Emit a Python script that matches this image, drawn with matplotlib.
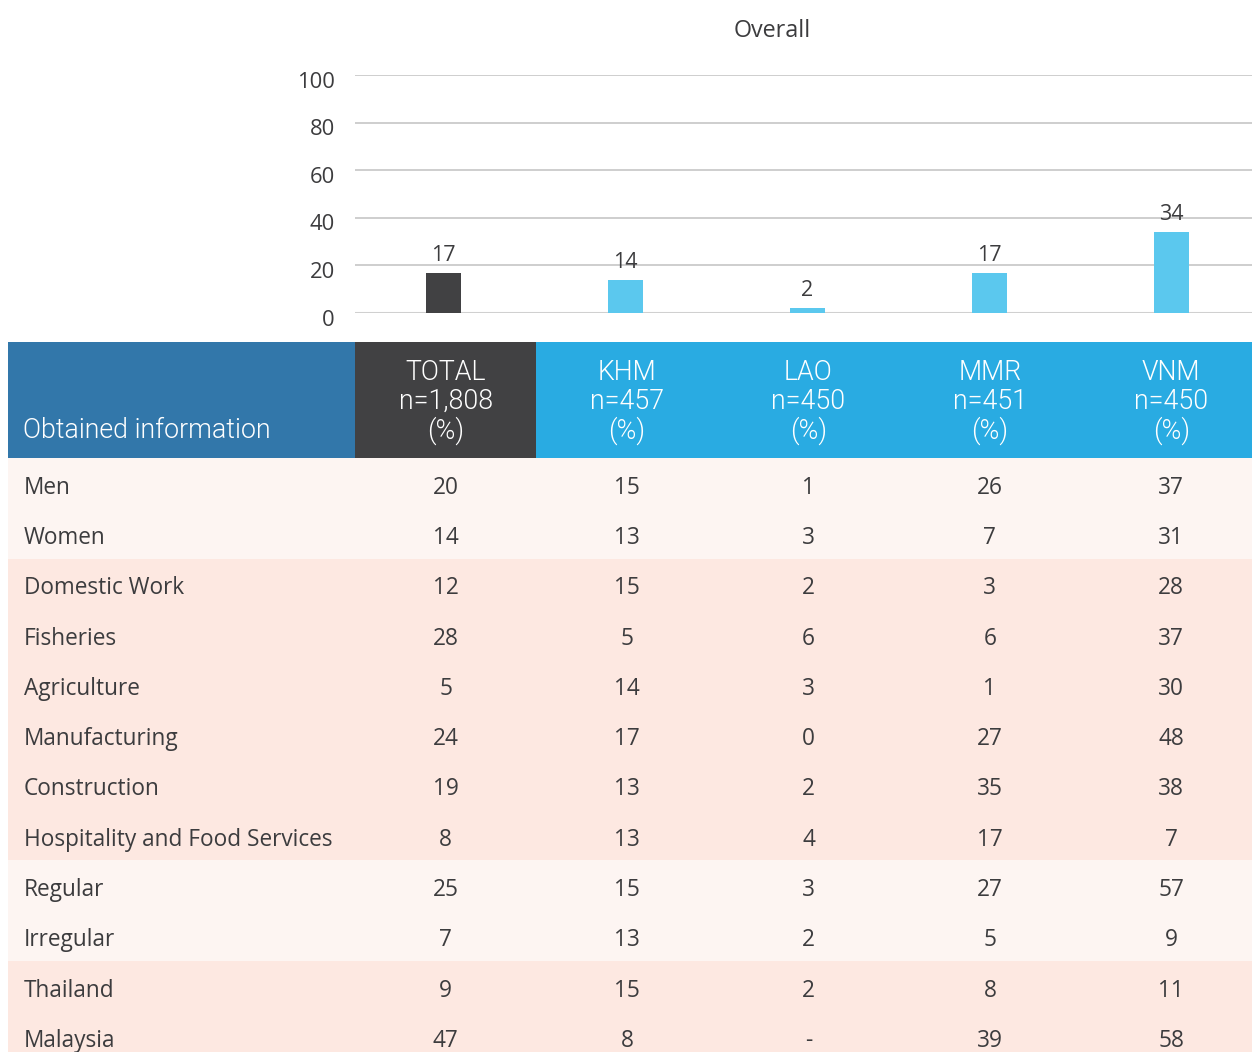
import matplotlib
matplotlib.use("Agg")
import matplotlib.pyplot as plt
import matplotlib.transforms as mtransforms
from matplotlib.patches import Rectangle

# ---------------- data ----------------
groups = ["TOTAL", "KHM", "LAO", "MMR", "VNM"]
group_n = ["n=1,808", "n=457", "n=450", "n=451", "n=450"]
overall = [17, 14, 2, 17, 34]

row_labels = ["Men", "Women", "Domestic Work", "Fisheries", "Agriculture",
              "Manufacturing", "Construction", "Hospitality and Food Services",
              "Regular", "Irregular", "Thailand", "Malaysia"]
total = ["20", "14", "12", "28", "5", "24", "19", "8", "25", "7", "9", "47"]
khm = ["15", "13", "15", "5", "14", "17", "13", "13", "15", "13", "15", "8"]
lao = ["1", "3", "2", "6", "3", "0", "2", "4", "3", "2", "2", "-"]
mmr = ["26", "7", "3", "6", "1", "27", "35", "17", "27", "5", "8", "39"]
vnm = ["37", "31", "28", "37", "30", "48", "38", "7", "57", "9", "11", "58"]
row_band = [0, 0, 1, 1, 1, 1, 1, 1, 0, 0, 1, 1]
header_label = "Obtained information"
title = "Overall"

# ---------------- style ----------------
W, H = 1252, 1052
BODY = ["Open Sans", "DejaVu Sans"]
HEAD = ["Roboto", "DejaVu Sans"]
TXT = "#3c3c3e"
DARK = "#414143"
CYAN_BAR = "#5bc8ee"
HDR_FIRST = "#3277aa"
HDR_TOTAL = "#414143"
HDR_OTHER = "#29abe2"
BAND = ["#fdf5f2", "#fde8e1"]

fig = plt.figure(figsize=(W / 100, H / 100), dpi=100)

# table layer in pixel coordinates
tab = fig.add_axes([0, 0, 1, 1])
tab.set_xlim(0, W)
tab.set_ylim(H, 0)
tab.axis("off")

col0_left = 8
col_left = 355
col_w = 181.4
hdr_top, hdr_bot = 342, 458
row_h = 50.3

def col_center(i):
    return col_left + col_w * (i + 0.5)

# header
tab.add_patch(Rectangle((col0_left, hdr_top), col_left - col0_left, hdr_bot - hdr_top,
                        color=HDR_FIRST, lw=0))
tab.add_patch(Rectangle((col_left, hdr_top), col_w, hdr_bot - hdr_top, color=HDR_TOTAL, lw=0))
tab.add_patch(Rectangle((col_left + col_w, hdr_top), W - col_left - col_w, hdr_bot - hdr_top,
                        color=HDR_OTHER, lw=0))
tab.text(23, 431, header_label, ha="left", va="center", color="white",
         fontsize=19.3, family=HEAD, fontweight=300)
for i, (g, n) in enumerate(zip(groups, group_n)):
    tab.text(col_center(i), 402, f"{g}\n{n}\n(%)", ha="center", va="center",
             color="white", fontsize=19.3, family=HEAD, fontweight=300,
             linespacing=1.1, multialignment="center")

# body rows
cols = [total, khm, lao, mmr, vnm]
for r, lab in enumerate(row_labels):
    top = hdr_bot + r * row_h
    tab.add_patch(Rectangle((col0_left, top), W - col0_left, row_h + 0.5,
                            color=BAND[row_band[r]], lw=0))
    base = top + row_h / 2 + 10.5
    tab.text(24, base, lab, ha="left", va="baseline", color=TXT,
             fontsize=16.3, family=BODY)
    for i, col in enumerate(cols):
        tab.text(col_center(i), base, col[r], ha="center", va="baseline",
                 color=TXT, fontsize=16.3, family=BODY)

# ---------------- bar chart ----------------
ax_left = col_left / W
ax_bottom = (H - 313) / H
ax_height = (313 - 75) / H
ax = fig.add_axes([ax_left, ax_bottom, 1 - ax_left, ax_height])
ax.patch.set_alpha(0)
x = list(range(len(groups)))
colors = [DARK] + [CYAN_BAR] * (len(groups) - 1)
bars = ax.bar(x, overall, width=0.193, color=colors, zorder=3)
for b, v in zip(bars, overall):
    ax.annotate(str(v), (b.get_x() + b.get_width() / 2, v), xytext=(0, 5),
                textcoords="offset points", ha="center", va="bottom",
                fontsize=15.5, color=TXT, family=BODY)
bar_step = 182.0
first_center = 443.5
ax.set_xlim(-(first_center - col_left) / bar_step, (W - first_center) / bar_step)
ax.set_ylim(0, 100)
ax.set_yticks([0, 20, 40, 60, 80, 100])
ax.set_xticks([])
ax.yaxis.grid(True, color="#c6c6c6", lw=1.2, zorder=0)
ax.axhline(0, color="#d0d0d0", lw=2.2, zorder=2)
for s in ax.spines.values():
    s.set_visible(False)
ax.tick_params(axis="y", length=0, pad=14.5, labelsize=15.8, labelcolor=TXT)
shift = mtransforms.ScaledTranslation(0, -4.5 / 100, fig.dpi_scale_trans)
for t in ax.get_yticklabels():
    t.set_family(BODY)
    t.set_transform(t.get_transform() + shift)

fig.text(772 / W, 1 - 31 / H, title, ha="center", va="center",
         fontsize=16.8, color=TXT, family=BODY)

fig.savefig("out.png", dpi=100)
